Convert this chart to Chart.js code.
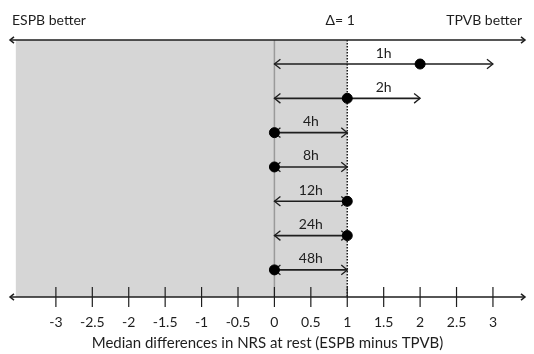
<!DOCTYPE html>
<html>
<head>
<meta charset="utf-8">
<script src="https://cdn.jsdelivr.net/npm/chart.js@4.4.0/dist/chart.umd.min.js"></script>
<style>
  body { margin: 0; background: #fff; }
  #wrap { width: 534px; height: 354px; }
</style>
</head>
<body>
<div id="wrap"><canvas id="myChart"></canvas></div>
<script>
// rows (time points), median difference and its range
const rowLabels = ['1h', '2h', '4h', '8h', '12h', '24h', '48h'];
const medianDiff = [2, 1, 0, 0, 1, 1, 0];
const lowerBound = [0, 0, 0, 0, 0, 0, 0];
const upperBound = [3, 2, 1, 1, 1, 1, 1];

const tickValues = [-3, -2.5, -2, -1.5, -1, -0.5, 0, 0.5, 1, 1.5, 2, 2.5, 3];
const delta = 1;          // non-inferiority margin
const shadeFrom = -3.55;  // left edge of grey band

const fontFam = 'Lato, "Open Sans", sans-serif';
const ink = '#1e1e1e';

const ctx = document.getElementById('myChart');

function arrowHead(c, x, y, dir, size) {
	c.beginPath();
	c.moveTo(x - dir * size, y - size * 0.8);
	c.lineTo(x, y);
	c.lineTo(x - dir * size, y + size * 0.8);
	c.stroke();
}

// background band, reference lines, frame arrows, arrow heads
const forestPlugin = {
	id: 'forest',
	beforeDatasetsDraw(chart) {
		const c = chart.ctx;
		const xs = chart.scales.x;
		const ys = chart.scales.y;
		const a = chart.chartArea;
		c.save();
		// grey band
		c.fillStyle = '#d6d6d6';
		c.fillRect(xs.getPixelForValue(shadeFrom), a.top, xs.getPixelForValue(delta) - xs.getPixelForValue(shadeFrom), a.bottom - a.top);
		// zero line
		c.strokeStyle = '#9a9a9a';
		c.lineWidth = 1.5;
		c.beginPath();
		c.moveTo(xs.getPixelForValue(0), a.top);
		c.lineTo(xs.getPixelForValue(0), a.bottom);
		c.stroke();
		// delta line
		c.strokeStyle = ink;
		c.setLineDash([1.5, 1.5]);
		c.beginPath();
		c.moveTo(xs.getPixelForValue(delta), a.top);
		c.lineTo(xs.getPixelForValue(delta), a.bottom);
		c.stroke();
		c.setLineDash([]);
		// top and bottom double arrows
		c.lineWidth = 1.5;
		[a.top, a.bottom].forEach(function (yy) {
			c.beginPath();
			c.moveTo(a.left, yy);
			c.lineTo(a.right, yy);
			c.stroke();
			arrowHead(c, a.left, yy, -1, 4);
			arrowHead(c, a.right, yy, 1, 4);
		});
		// tick marks
		c.lineWidth = 1.2;
		tickValues.forEach(function (v) {
			const px = xs.getPixelForValue(v);
			c.beginPath();
			c.moveTo(px, a.bottom - 10);
			c.lineTo(px, a.bottom + 10);
			c.stroke();
		});
		// heads on every row arrow
		c.lineWidth = 1.3;
		for (let i = 0; i < rowLabels.length; i++) {
			const py = ys.getPixelForValue(i);
			arrowHead(c, xs.getPixelForValue(lowerBound[i]), py, -1, 6);
			arrowHead(c, xs.getPixelForValue(upperBound[i]), py, 1, 6);
		}
		// header texts
		c.fillStyle = ink;
		c.font = '14px ' + fontFam;
		c.textBaseline = 'middle';
		c.textAlign = 'left';
		c.fillText('ESPB better', 12, 20);
		c.textAlign = 'right';
		c.fillText('TPVB better', 522, 20);
		c.textAlign = 'center';
		c.fillText('\u0394= ' + delta, xs.getPixelForValue(delta) - 7, 20);
		// row labels
		c.font = '14px ' + fontFam;
		c.textBaseline = 'bottom';
		for (let i = 0; i < rowLabels.length; i++) {
			let mid = (lowerBound[i] + upperBound[i]) / 2;
			if (mid === medianDiff[i]) {
				mid = (mid + upperBound[i]) / 2;
			}
			c.fillText(rowLabels[i], xs.getPixelForValue(mid), ys.getPixelForValue(i) - 4);
		}
		c.restore();
	}
};

const datasets = [{
	label: 'median',
	data: medianDiff.map((m, i) => ({ x: m, y: i })),
	type: 'scatter',
	pointRadius: 5,
	pointBackgroundColor: '#000',
	pointBorderColor: '#000',
	showLine: false
}];
for (let i = 0; i < rowLabels.length; i++) {
	datasets.push({
		label: rowLabels[i],
		type: 'line',
		data: [{ x: lowerBound[i], y: i }, { x: upperBound[i], y: i }],
		borderColor: ink,
		borderWidth: 1.6,
		pointRadius: 0,
		fill: false
	});
}

new Chart(ctx, {
	type: 'scatter',
	data: { datasets: datasets },
	options: {
		responsive: true,
		maintainAspectRatio: false,
		animation: false,
		layout: { padding: { top: 40, left: 10, right: 9, bottom: 0 } },
		plugins: { legend: { display: false }, tooltip: { enabled: false } },
		scales: {
			x: {
				type: 'linear',
				min: -3.63,
				max: 3.44,
				afterBuildTicks: function (s) {
					s.ticks = tickValues.map(v => ({ value: v }));
				},
				afterFit: function (s) {
					s.height = 57;
				},
				grid: { display: false, drawTicks: false },
				border: { display: false },
				ticks: {
					color: ink,
					padding: 17,
					autoSkip: false,
					maxRotation: 0,
					font: { family: fontFam, size: 14 },
					callback: v => String(v)
				},
				title: {
					display: true,
					text: 'Median differences in NRS at rest (ESPB minus TPVB)',
					color: ink,
					font: { family: fontFam, size: 15 },
					padding: { top: 2, bottom: 2 }
				}
			},
			y: {
				type: 'linear',
				display: false,
				reverse: true,
				min: -0.7,
				max: 6.79
			}
		}
	},
	plugins: [forestPlugin]
});
</script>
</body>
</html>
